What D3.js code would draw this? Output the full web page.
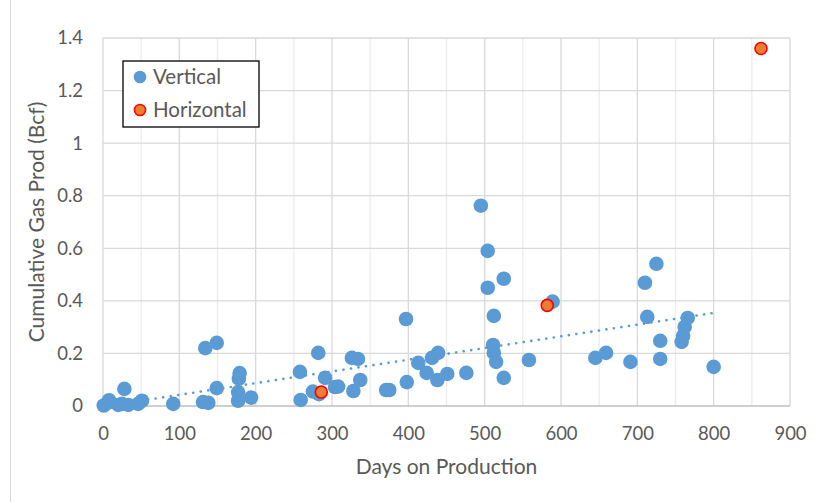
<!DOCTYPE html>
<html>
<head>
<meta charset="utf-8">
<script src="https://cdn.jsdelivr.net/npm/d3@7"></script>
<style>
  html, body { margin: 0; padding: 0; background: #fff; }
  svg { display: block; }
  text { font-family: Lato, "Open Sans", sans-serif; }
</style>
</head>
<body>
<svg id="chart" width="824" height="502"></svg>
<script>
// ---- data ----
const verticalDays = [1, 6, 8, 20, 25, 28, 33, 46, 51, 92, 131, 138, 134, 149, 149, 179, 178, 177, 177, 194,
  259, 258, 282, 275, 283, 291, 304, 308, 326, 334, 328, 337, 371, 375, 398, 413, 431, 439, 424, 438,
  451, 476, 495, 504, 525, 504, 589, 397, 512, 511, 512, 515, 558, 525, 725, 710, 713, 766, 762, 760,
  758, 730, 645, 659, 691, 730, 800];
const verticalGas = [0.002, 0.012, 0.022, 0.004, 0.008, 0.065, 0.004, 0.008, 0.02, 0.008, 0.015, 0.012, 0.22, 0.24, 0.068, 0.125, 0.104, 0.053, 0.02, 0.032,
  0.023, 0.13, 0.202, 0.055, 0.045, 0.107, 0.072, 0.074, 0.183, 0.179, 0.057, 0.099, 0.061, 0.061, 0.091, 0.164, 0.183, 0.202, 0.126, 0.099,
  0.122, 0.126, 0.762, 0.59, 0.484, 0.45, 0.397, 0.331, 0.343, 0.232, 0.202, 0.168, 0.175, 0.107, 0.541, 0.469, 0.339, 0.335, 0.301, 0.267,
  0.244, 0.248, 0.183, 0.202, 0.168, 0.179, 0.149];
const horizontalDays = [286, 582, 862];
const horizontalGas = [0.053, 0.383, 1.36];
const trendDays = [0, 800];
const trendGas = [-0.002, 0.354];
const xTicks = [0, 100, 200, 300, 400, 500, 600, 700, 800, 900];
const yTicks = [0, 0.2, 0.4, 0.6, 0.8, 1, 1.2, 1.4];
const seriesNames = ["Vertical", "Horizontal"];
const xTitle = "Days on Production";
const yTitle = "Cumulative Gas Prod (Bcf)";

// ---- layout ----
const svg = d3.select("#chart");
const pL = 103, pR = 790, pT = 38, pB = 406;
const x = d3.scaleLinear().domain([0, 900]).range([pL, pR]);
const y = d3.scaleLinear().domain([0, 1.4]).range([pB, pT]);

// outer chart border (left edge visible)
svg.append("line").attr("x1", 10.5).attr("x2", 10.5).attr("y1", 0).attr("y2", 502)
  .attr("stroke", "#d9d9d9").attr("stroke-width", 1);

// minor vertical gridlines (every 50)
const minorX = d3.range(50, 900, 100);
svg.append("g").selectAll("line").data(minorX).join("line")
  .attr("x1", d => x(d)).attr("x2", d => x(d)).attr("y1", pT).attr("y2", pB)
  .attr("stroke", "#ececec").attr("stroke-width", 1.3);
// major vertical gridlines
svg.append("g").selectAll("line").data(xTicks).join("line")
  .attr("x1", d => x(d)).attr("x2", d => x(d)).attr("y1", pT).attr("y2", pB)
  .attr("stroke", "#d9d9d9").attr("stroke-width", 1.3);
// horizontal gridlines
svg.append("g").selectAll("line").data(yTicks.slice(1)).join("line")
  .attr("x1", pL).attr("x2", pR).attr("y1", d => y(d)).attr("y2", d => y(d))
  .attr("stroke", "#d9d9d9").attr("stroke-width", 1.3);
// x axis line
svg.append("line").attr("x1", pL).attr("x2", pR).attr("y1", pB).attr("y2", pB)
  .attr("stroke", "#bfbfbf").attr("stroke-width", 1.5);

// axes (labels only)
const xAxis = d3.axisBottom(x).tickValues(xTicks).tickSize(0).tickPadding(21).tickFormat(d3.format("d"));
const gx = svg.append("g").attr("transform", `translate(0,${pB})`).call(xAxis);
gx.select(".domain").remove();
gx.selectAll("text").attr("fill", "#595959").style("font-size", "18.5px").style("font-family", "Lato, sans-serif");

const yAxis = d3.axisLeft(y).tickValues(yTicks).tickSize(0).tickPadding(20).tickFormat(d => String(+d.toFixed(1)));
const gy = svg.append("g").attr("transform", `translate(${pL},0)`).call(yAxis);
gy.select(".domain").remove();
gy.selectAll("text").attr("fill", "#595959").style("font-size", "18.5px").style("font-family", "Lato, sans-serif");

// axis titles
svg.append("text").attr("x", (pL + pR) / 2).attr("y", 474).attr("text-anchor", "middle")
  .attr("fill", "#595959").style("font-size", "21px").text(xTitle);
svg.append("text").attr("transform", `translate(44,${(pT + pB) / 2}) rotate(-90)`)
  .attr("text-anchor", "middle").attr("fill", "#595959").style("font-size", "21px").text(yTitle);

// vertical points
const vData = verticalDays.map((d, i) => ({ d, g: verticalGas[i] }));
svg.append("g").selectAll("circle").data(vData).join("circle")
  .attr("cx", p => x(p.d)).attr("cy", p => y(p.g)).attr("r", 7.3)
  .attr("fill", "#5B9BD5");

// trendline
const tData = trendDays.map((d, i) => ({ d, g: trendGas[i] }));
svg.append("path").datum(tData)
  .attr("d", d3.line().x(p => x(p.d)).y(p => y(p.g)))
  .attr("fill", "none").attr("stroke", "#5B9BD5").attr("stroke-width", 2.6)
  .attr("stroke-linecap", "round").attr("stroke-dasharray", "0.1 7.5");

// horizontal points
const hData = horizontalDays.map((d, i) => ({ d, g: horizontalGas[i] }));
svg.append("g").selectAll("circle").data(hData).join("circle")
  .attr("cx", p => x(p.d)).attr("cy", p => y(p.g)).attr("r", 6)
  .attr("fill", "#ED7D31").attr("stroke", "#FF0000").attr("stroke-width", 1.6);

// legend
const lg = svg.append("g");
lg.append("rect").attr("x", 123).attr("y", 61).attr("width", 136).attr("height", 66)
  .attr("fill", "#fff").attr("stroke", "#000").attr("stroke-width", 1.3);
lg.append("circle").attr("cx", 140).attr("cy", 77).attr("r", 6.3).attr("fill", "#5B9BD5");
lg.append("circle").attr("cx", 140).attr("cy", 110).attr("r", 5.6)
  .attr("fill", "#ED7D31").attr("stroke", "#FF0000").attr("stroke-width", 1.5);
lg.selectAll("text.lbl").data(seriesNames).join("text").attr("class", "lbl")
  .attr("x", 153).attr("y", (d, i) => 77 + i * 33).attr("dy", "0.35em")
  .attr("fill", "#595959").style("font-size", "20.5px").text(d => d);
</script>
</body>
</html>
